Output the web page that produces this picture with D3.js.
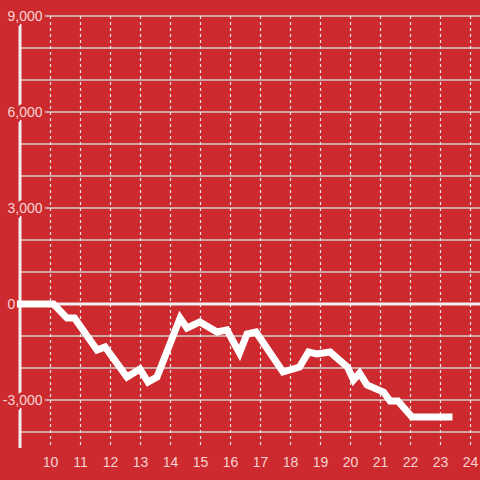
<!DOCTYPE html>
<html>
<head>
<meta charset="utf-8">
<script src="https://cdn.jsdelivr.net/npm/d3@7"></script>
<style>
  html, body { margin: 0; padding: 0; background: #cd2a2f; }
  svg { display: block; }
</style>
</head>
<body>
<div id="chart"></div>
<script>
// Data (hours of day, cumulative value)
const hours = [8.88, 10.1, 10.55, 10.8, 11.55, 11.82, 12.55, 12.98, 13.25, 13.55, 14.32, 14.55, 14.98, 15.55, 15.88, 16.3, 16.55, 16.85, 17.75, 18.3, 18.6, 18.88, 19.32, 19.9, 20.1, 20.3, 20.55, 21.1, 21.32, 21.58, 22.05, 23.4];
const values = [0, 0, -440, -440, -1440, -1340, -2280, -2030, -2440, -2280, -440, -750, -560, -875, -810, -1530, -940, -875, -2125, -1970, -1500, -1560, -1500, -1970, -2375, -2160, -2530, -2750, -3030, -3030, -3530, -3530];
const xTicks = [10, 11, 12, 13, 14, 15, 16, 17, 18, 19, 20, 21, 22, 23, 24];
const yGrid = [9000, 8000, 7000, 6000, 5000, 4000, 3000, 2000, 1000, 0, -1000, -2000, -3000, -4000];
const yLabels = [9000, 6000, 3000, 0, -3000];

const W = 480, H = 480;
const BG = "#cd2a2f";
const svg = d3.select("#chart").append("svg").attr("width", W).attr("height", H);
svg.append("rect").attr("width", W).attr("height", H).attr("fill", BG);

const x = d3.scaleLinear().domain([9, 24]).range([20.5, 470.5]);
const y = d3.scaleLinear().domain([9000, -4500]).range([16, 448]);

const font = "'Liberation Sans', Arial, sans-serif";

// horizontal grid
svg.append("g").selectAll("line").data(yGrid.filter(d => d !== 0)).join("line")
  .attr("x1", x(9)).attr("x2", W)
  .attr("y1", d => y(d)).attr("y2", d => y(d))
  .attr("stroke", "#cfcfcf").attr("stroke-width", 1.5);

// vertical dashed grid
svg.append("g").selectAll("line").data(xTicks).join("line")
  .attr("x1", d => x(d)).attr("x2", d => x(d))
  .attr("y1", y(9000)).attr("y2", y(-4500))
  .attr("stroke", "#e6e6e6").attr("stroke-width", 1.2)
  .attr("stroke-dasharray", "3,3");

// zero line
svg.append("line")
  .attr("x1", 17).attr("x2", W)
  .attr("y1", y(0)).attr("y2", y(0))
  .attr("stroke", "#eeeeee").attr("stroke-width", 3);

// y axis line
svg.append("line")
  .attr("x1", x(9) - 0.5).attr("x2", x(9) - 0.5)
  .attr("y1", y(9000)).attr("y2", y(-4500))
  .attr("stroke", "#eeeeee").attr("stroke-width", 3);

// y labels with background knockout; minus sign hangs to the left
const fmt = d3.format(",");
svg.append("g").selectAll("text").data(yLabels).join("text")
  .attr("x", 7.5).attr("y", d => y(d))
  .attr("dy", "0.36em")
  .attr("dx", d => d < 0 ? -4.7 : 0)
  .attr("text-anchor", "start")
  .attr("font-family", font).attr("font-size", 14)
  .attr("fill", "#f6d2d2")
  .attr("stroke", BG).attr("stroke-width", 6)
  .attr("paint-order", "stroke")
  .text(d => (d < 0 ? "-" : "") + fmt(Math.abs(d)));

// x labels
svg.append("g").selectAll("text").data(xTicks).join("text")
  .attr("x", d => x(d)).attr("y", 462)
  .attr("dy", "0.36em")
  .attr("text-anchor", "middle")
  .attr("font-family", font).attr("font-size", 14)
  .attr("fill", "#f6d2d2")
  .text(d => d);

// data line
const line = d3.line().x(d => x(d[0])).y(d => y(d[1]));
svg.append("path")
  .datum(hours.map((h, i) => [h, values[i]]))
  .attr("d", line)
  .attr("fill", "none")
  .attr("stroke", "#ffffff")
  .attr("stroke-width", 7)
  .attr("stroke-linejoin", "miter");
</script>
</body>
</html>
